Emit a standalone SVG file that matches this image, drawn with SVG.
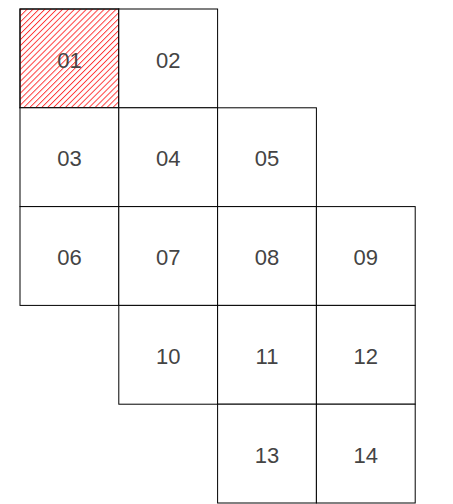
<svg xmlns="http://www.w3.org/2000/svg" width="453" height="504" viewBox="0 0 453 504">
<defs>
<pattern id="hatch" width="4.2" height="4.2" patternUnits="userSpaceOnUse" patternTransform="rotate(45)">
<line x1="0.5" y1="0" x2="0.5" y2="4.2" stroke="#f00" stroke-width="0.75"/>
</pattern>
</defs>
<style>
.cell rect{fill:#fff;stroke:#000;stroke-width:1}
.cell text{font-family:"Liberation Sans",Arial,sans-serif;font-size:22px;fill:#444;text-anchor:middle}
</style>
<rect width="453" height="504" fill="#fff"/>
<g id="n01" class="cell"><rect x="20" y="9" width="98.8" height="98.8"/><rect x="20" y="9" width="98.8" height="98.8" style="fill:url(#hatch)"/><text x="69.4" y="67.6">01</text></g>
<g id="n02" class="cell"><rect x="118.8" y="9" width="98.8" height="98.8"/><text x="168.2" y="67.6">02</text></g>
<g id="n03" class="cell"><rect x="20" y="107.8" width="98.8" height="98.8"/><text x="69.4" y="166.4">03</text></g>
<g id="n04" class="cell"><rect x="118.8" y="107.8" width="98.8" height="98.8"/><text x="168.2" y="166.4">04</text></g>
<g id="n05" class="cell"><rect x="217.6" y="107.8" width="98.8" height="98.8"/><text x="267" y="166.4">05</text></g>
<g id="n06" class="cell"><rect x="20" y="206.6" width="98.8" height="98.8"/><text x="69.4" y="265.2">06</text></g>
<g id="n07" class="cell"><rect x="118.8" y="206.6" width="98.8" height="98.8"/><text x="168.2" y="265.2">07</text></g>
<g id="n08" class="cell"><rect x="217.6" y="206.6" width="98.8" height="98.8"/><text x="267" y="265.2">08</text></g>
<g id="n09" class="cell"><rect x="316.4" y="206.6" width="98.8" height="98.8"/><text x="365.8" y="265.2">09</text></g>
<g id="n10" class="cell"><rect x="118.8" y="305.4" width="98.8" height="98.8"/><text x="168.2" y="364">10</text></g>
<g id="n11" class="cell"><rect x="217.6" y="305.4" width="98.8" height="98.8"/><text x="267" y="364">11</text></g>
<g id="n12" class="cell"><rect x="316.4" y="305.4" width="98.8" height="98.8"/><text x="365.8" y="364">12</text></g>
<g id="n13" class="cell"><rect x="217.6" y="404.2" width="98.8" height="98.8"/><text x="267" y="462.8">13</text></g>
<g id="n14" class="cell"><rect x="316.4" y="404.2" width="98.8" height="98.8"/><text x="365.8" y="462.8">14</text></g>
<g id="connectors"/>
</svg>
